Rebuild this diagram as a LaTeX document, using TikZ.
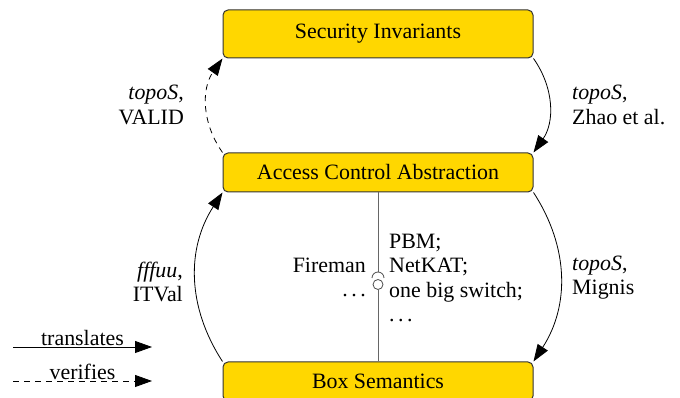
\documentclass[tikz,border=0pt]{standalone}
\usepackage{fontspec}
\setmainfont{Liberation Serif}
\usetikzlibrary{arrows.meta}
\newcommand\mydots{.\hspace{3.5pt}.\hspace{3.5pt}.}
\tikzset{
  layer/.style={draw=black!80, line width=1pt, fill=gold, rounded corners=5pt,
    minimum width=310pt, inner sep=0pt},
  conn/.style={line width=0.8pt, -{Triangle[length=17pt,width=12pt]}},
  verif/.style={conn, dash pattern=on 6pt off 5pt},
  lbl/.style={inner sep=0pt}
}
\definecolor{gold}{RGB}{255,215,0}
\begin{document}
\begin{tikzpicture}[x=1pt,y=1pt,font=\fontsize{21.9}{24.5}\selectfont]
\useasboundingbox (0,0) rectangle (680,398);
\node[layer, minimum height=48pt] (sec) at (378,364) {Security Invariants};
\node[layer, minimum height=39pt] (acc) at (378,225.5) {Access Control Abstraction};
\node[layer, minimum height=39pt] (box) at (378,16.5) {Box Semantics};

\draw[verif] (acc.north west) to[bend left=35] (sec.south west);
\draw[conn] (sec.south east) to[bend left=35] (acc.north east);
\draw[conn] (box.north west) to[bend left=33] (acc.south west);
\draw[conn] (acc.south east) to[bend left=33] (box.north east);

\node[lbl, anchor=east, align=right] (lv) at (184,293) {\textit{topoS},\\VALID};
\node[lbl, anchor=west, align=left] (lz) at (572,293) {\textit{topoS},\\Zhao et al.};
\node[lbl, anchor=east, align=right] (lf) at (183,116) {\textit{fffuu},\\ITVal};
\node[lbl, anchor=west, align=left] (lm) at (572,120.5) {\textit{topoS},\\Mignis};

% interface line
\coordinate (socktop) at (378,126);
\coordinate (sockl) at (372,120);
\node[draw=black!70, line width=0.8pt, circle, minimum size=10pt, inner sep=0pt] (ball) at (378,113.5) {};
\draw[black!60, line width=0.9pt] (acc.south) -- (socktop);
\draw[black!70, line width=0.8pt] (sockl) arc[start angle=180, end angle=0, radius=6];
\draw[black!60, line width=0.9pt] (ball.south) -- (box.north);

\node[lbl, anchor=east, align=right] (fw) at (366,120.5) {Fireman\\\mydots};
\node[lbl, anchor=west, align=left] (pb) at (389,120) {PBM;\\NetKAT;\\one big switch;\\\mydots};

% legend
\coordinate (t1) at (13,51);
\coordinate (t2) at (152,51);
\coordinate (v1) at (13,17);
\coordinate (v2) at (152,17);
\draw[conn] (t1) -- node[above=1pt, lbl] (tl) {translates} (t2);
\draw[verif] (v1) -- node[above=1pt, lbl] (vl) {verifies} (v2);
\end{tikzpicture}
\end{document}
